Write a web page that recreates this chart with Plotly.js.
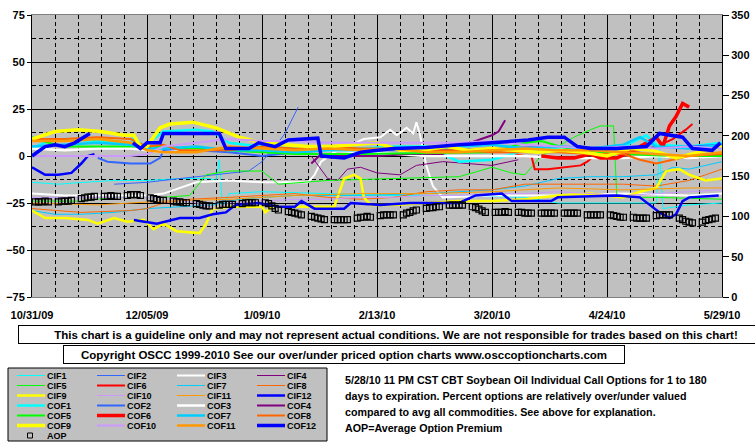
<!DOCTYPE html>
<html><head><meta charset="utf-8">
<script src="https://cdn.plot.ly/plotly-3.0.1.min.js"></script>
<style>html,body{margin:0;padding:0;background:#fff;}#chart{width:755px;height:446px;}</style>
</head><body><div id="chart"></div>
<script>
// ---- data: day offsets from 10/31/09 and % over/under values ----
const cif1Day = [0,8,16,25,35,45,54,56,57,58,60,70,90,110,130,150,160,175,190,191,192,200,210];
const cif1Val = [-14,-15,-14,-13,-13,-12,-12,-13,-2,-27,-20,-19,-20,-21,-21,-22,-25,-25,-25,4,-28,-26,-25];
const cif2Day = [25,35,45,55,62,66,70,74,77,79,81];
const cif2Val = [-15,-14,-12,-10,-9,-8,-3,5,12,19,26];
const cif3Day = [0,10,20,35,40,45,50,60,70,80,84,86,88,92,97,101,106,109,111,114,116,117,118,120,122,125,140,160,180,200,210];
const cif3Val = [-20,-21,-21,-21,-20,-17,-14,-13,-14,-14,-14,-10,-3,2,6,9,10,14,11,15,12,18,12,-5,-16,-22,-21,-21,-20,-21,-20];
const cif4Day = [85,87,90,93,96,100,105,112,117,125,133,140,148];
const cif4Val = [0,-5,-12,-13,-7,-6,-9,-10,-5,-3,-4,-5,-2];
const cif5Day = [0,15,25,40,48,53,60,70,75,90,110,130,140,146,150,155,160,165,170,173,177,178,190,210];
const cif5Val = [-24,-24,-22,-22,-21,-10,-8,-8,-15,-13,-12,-11,-6,-9,-10,0,5,10,14,16,16,-22,-22,-23];
const cif6Day = [147,150,152,153,157,162,167,169,171,175,180,185,190,195,199,201];
const cif6Val = [1,0,0,-7,-7,-6,-5,-3,0,1,2,3,5,9,14,17];
const cif7Day = [0,7,15,25,30,35,45,55,63,70,80,100,120,130,140,150,160,170,180,190,195,200,210];
const cif7Val = [-29,-31,-31,-30,-29,-28,-27,-26,-23,-22,-21,-21,-20,-19,-18,-16,-12,-11,-11,-10,-6,-7,-3];
const cif8Day = [0,15,30,35,40,48,60,70,80,90,100,110,120,130,140,150,160,170,180,190,200,205,210];
const cif8Val = [-28,-30,-29,-28,-25,-23,-22,-21,-20,-22,-23,-22,-19,-18,-18,-15,-15,-15,-15,-16,-13,-10,-7];
const cif9Day = [0,4,10,17,20,25,29,34,37,40,44,51,53,55,60,70,71,73,80,92,95,98,100,101,103,110,120,130,140,150,160,170,175,180,185,190,193,197,200,205,210];
const cif9Val = [-29,-33,-33,-34,-36,-33,-35,-34,-39,-36,-40,-41,-36,-28,-27,-27,-30,-27,-27,-27,-12,-10,-12,-22,-26,-26,-25,-24,-24,-23,-21,-20,-21,-22,-19,-17,-8,-7,-10,-13,-12];
const cif10Day = [0,20,40,50,56,60,70,80,90,100,110,120,130,140,150,160,170,180,190,200,210];
const cif10Val = [-22,-22,-22,-25,-28,-25,-24,-23,-23,-22,-22,-21,-21,-20,-20,-19,-20,-21,-20,-19,-18];
const cif11Day = [0,20,40,60,80,100,120,140,160,180,200,210];
const cif11Val = [-25,-26,-24,-23,-21,-20,-20,-19,-17,-18,-17,-17];
const cif12Day = [0,4,8,12,15,17,19,25,31,38,45,51,55,59,62,69,75,80,82,86,95,97,106,115,130,135,143,146,158,160,178,185,188,191,194,196,198,200,209];
const cif12Val = [-6,-10,-10,-9,-4,0,1,null,-34,-36,-33,-33,-31,-30,-26,-25,-27,-27,-24,-28,-28,-25,-26,-25,-25,-21,-20,-24,-24,-22,-21,-22,-26,-30,-33,-31,-24,-22,-21];

const cof1Day = [0,5,10,20,30,31,34,40,50,55,60,70,80,90,100,110,120,130,140,150,160,170,180,187,190,200,210];
const cof1Val = [4,8,9,8,6,10,5,13,14,13,7,5,4,5,4,5,5,-3,-2,3,4,3,5,11,6,5,7];
const cof2Day = [20,23,30,36,39,40,50,60,70,80,90,100,120,140,160,180,200,210];
const cof2Val = [-1,-3,-4,-4,-1,3,3,2,0,2,3,3,3,4,5,4,5,6];
const cof3Day = [0,10,20,30,35,40,50,60,70,80,90,100,110,120,130,140,150,160,170,180,190,200,210];
const cof3Val = [4,3,4,4,3,2,3,4,4,3,3,2,1,0,0,0,0,-1,-1,-1,0,-1,0];
const cof4Day = [85,88,95,105,115,125,130,135,140,142,144];
const cof4Val = [-4,1,0,0,1,1,5,8,11,13,19];
const cof5Day = [0,5,10,25,35,50,60,70,80,100,120,140,150,155,165,180,195,210];
const cof5Val = [10,7,5,5,5,4,3,2,1,1,1.5,2,7,8,3,1,0,0];
const cof6Day = [155,160,165,170,173,178,182,186,188,190,192,194,196,198,200];
const cof6Val = [0,-1,-1,1,-1,-1,2,6,8,10,5,16,21,28,26];
const cof7Day = [0,10,20,30,35,40,50,60,70,80,90,100,110,120,130,140,150,160,170,180,185,190,200,210];
const cof7Val = [5,6,7,6,4,4,5,3,3,2,3,3,4,4,5,6,4,5,4,6,10,5,4,6];
const cof8Day = [0,10,20,30,35,40,45,60,70,80,90,100,110,120,130,140,150,160,170,180,185,190,195,200,210];
const cof8Val = [9,9,10,9,5,6,3,3,5,4,5,4,4,3,3,2,2,2,1,1,-2,-4,-2,0,1];
const cof9Day = [0,7,14,21,28,31,33,35,39,42,49,56,63,70,77,84,91,98,105,112,119,126,133,140,147,154,161,168,175,182,189,196,203,210];
const cof9Val = [9,13,14,13,11,11,5,5,15,17,18,15,10,7,6,5,5,6,7,3,3,5,3,4,3,2,3,2,0,4,3,-1,2,5];
const cof10Day = [0,10,20,30,35,40,50,60,70,80,90,100,110,120,130,140,150,160,170,180,190,200,210];
const cof10Val = [0,0,0,0,1,5,7,9,8,8,7,7,7,7,7,8,6,5,4,5,4,5,4];
const cof11Day = [0,10,20,30,35,40,50,60,70,80,90,100,110,120,130,140,150,160,170,180,190,200,210];
const cof11Val = [8,8,9,7,3,2,2,5,4,3,4,3,4,2,2,3,4,3,3,2,1,0,2];
const cof12Day = [0,4,7,10,13,17.6,25,30.7,33,35,39,40,57,59,66,69,72,74,78,87,88,95,100,110,120,130,140,151,157,162,166,170,178,187,191,198,201,207,209.5];
const cof12Val = [0,5,6,5,7,12,null,7,4,7,7,12,12,4,4,7,6,5,8.5,9.5,0,-1,2,4,4.5,6,7,8.5,10,10,5,4,4,5,12,10,4,3,7];

// Average option premium (right axis), one value per trading day, 30 weeks x 5 days
const aopVal = [
118,118,118,119,118, 118,119,119,119,120, 122,123,124,124,125, 125,125,126,125,125, 126,127,127,127,126,
123,122,121,120,120, 119,118,118,117,117, 116,115,114,113,113, 114,115,115,115,115, 116,117,117,117,117,
117,116,113,110,108, 106,105,104,103,102, 100,99,98,97,96, 96,96,96,96,96, 98,99,99,100,99,
101,102,102,102,102, 102,104,105,107,108, 110,111,111,112,112, 114,114,114,114,114, 112,111,109,107,105,
105,105,105,106,105, 105,105,104,104,104, 104,104,104,104,104, 104,104,104,104,104, 102,102,102,102,102,
102,101,100,99,99, 99,98,98,98,98, 101,102,102,102,102, 98,96,94,93,92, 93,95,96,97,98];

const seriesNames = ['CIF1','CIF2','CIF3','CIF4','CIF5','CIF6','CIF7','CIF8','CIF9','CIF10','CIF11','CIF12',
                     'COF1','COF2','COF3','COF4','COF5','COF6','COF7','COF8','COF9','COF10','COF11','COF12'];
const seriesDays = [cif1Day,cif2Day,cif3Day,cif4Day,cif5Day,cif6Day,cif7Day,cif8Day,cif9Day,cif10Day,cif11Day,cif12Day,
                    cof1Day,cof2Day,cof3Day,cof4Day,cof5Day,cof6Day,cof7Day,cof8Day,cof9Day,cof10Day,cof11Day,cof12Day];
const seriesVals = [cif1Val,cif2Val,cif3Val,cif4Val,cif5Val,cif6Val,cif7Val,cif8Val,cif9Val,cif10Val,cif11Val,cif12Val,
                    cof1Val,cof2Val,cof3Val,cof4Val,cof5Val,cof6Val,cof7Val,cof8Val,cof9Val,cof10Val,cof11Val,cof12Val];

// ---- styles ----
const baseColors = ['#00FFFF','#3366FF','#FFFFFF','#800080','#00FF00','#FF0000','#00CCFF','#FF6600','#FFFF00','#CC99FF','#FF9900','#0000FF'];
const cifWidths = [1,1,2,1,1,2,1,1,2.5,1,1,2.5];
const cofWidths = [2.5,2,2.5,2,2,3.5,2.5,2,3.5,2,2.5,3.5];

const START = Date.UTC(2009,9,31);
const DAY = 864e5;
function toDate(d){ return START + d*DAY; }

const traces = [];
for (let i=0;i<24;i++){
  const c = baseColors[i%12];
  const w = i<12 ? cifWidths[i] : cofWidths[i-12];
  traces.push({
    type:'scatter', mode:'lines', name:seriesNames[i],
    x: seriesDays[i].map(toDate), y: seriesVals[i],
    line:{color:c, width:w}, showlegend:false, hoverinfo:'skip'
  });
}
const aopX = [];
for (let w=0; w<30; w++) for (let k=0;k<5;k++) aopX.push(toDate(7*w+1+k));
traces.push({type:'scatter', mode:'markers', name:'AOP', x:aopX, y:aopVal, yaxis:'y2',
  marker:{symbol:'square-open', size:6, color:'#000', line:{width:1.2, color:'#000'}}, showlegend:false, hoverinfo:'skip'});

// ---- pixel helpers for page furniture ----
const L=32, T=15, W=690, H=282;
const PX = p => (p-L)/W;
const PY = p => (T+H-p)/H;

const boldFont = (s)=>({family:'Liberation Sans, Arial, sans-serif', size:s, color:'#000', weight:'bold'});

const shapes = [];
const annotations = [];
// legend box
shapes.push({type:'rect', xref:'paper', yref:'paper', x0:PX(8), x1:PX(327), y0:PY(368), y1:PY(441),
  fillcolor:'#C0C0C0', line:{color:'#000', width:1}, layer:'below'});
const colLine = [[17,45],[97,125],[177,205],[257,285]];
const colText = [46,126,206,286];
for (let i=0;i<24;i++){
  const r = Math.floor(i/4), col = i%4;
  const y = 376 + 10*r;
  const w = i<12 ? cifWidths[i] : cofWidths[i-12];
  shapes.push({type:'line', xref:'paper', yref:'paper', x0:PX(colLine[col][0]), x1:PX(colLine[col][1]), y0:PY(y-0.5), y1:PY(y-0.5),
    line:{color:baseColors[i%12], width:w}, layer:'below'});
  annotations.push({xref:'paper', yref:'paper', x:PX(colText[col]), y:PY(y), xanchor:'left', yanchor:'middle',
    text:seriesNames[i], showarrow:false, font:boldFont(9), borderpad:0});
}
shapes.push({type:'rect', xref:'paper', yref:'paper', x0:PX(27.5), x1:PX(32.5), y0:PY(433), y1:PY(438),
  line:{color:'#000', width:1}, fillcolor:'rgba(0,0,0,0)', layer:'below'});
annotations.push({xref:'paper', yref:'paper', x:PX(46), y:PY(436), xanchor:'left', yanchor:'middle',
  text:'AOP', showarrow:false, font:boldFont(9), borderpad:0});

// disclaimer boxes
annotations.push({xref:'paper', yref:'paper', x:PX(396), y:PY(334), xanchor:'center', yanchor:'middle', showarrow:false,
  text:'This chart is a guideline only and may not represent actual conditions. We are not responsible for trades based on this chart!',
  font:boldFont(11.5), bordercolor:'#000', borderwidth:1, borderpad:1, bgcolor:'#fff', width:752, height:15});
annotations.push({xref:'paper', yref:'paper', x:PX(344), y:PY(354), xanchor:'center', yanchor:'middle', showarrow:false,
  text:'Copyright OSCC 1999-2010 See our over/under priced option charts www.osccoptioncharts.com',
  font:boldFont(11.5), bordercolor:'#000', borderwidth:1, borderpad:1, bgcolor:'#fff', width:558, height:15});

// description
const descLines = ['5/28/10 11 PM CST CBT Soybean Oil Individual Call Options for 1 to 180',
  'days to expiration. Percent options are relatively over/under valued',
  'compared to avg all commodities. See above for explanation.',
  'AOP=Average Option Premium'];
descLines.forEach((t,i)=>annotations.push({xref:'paper', yref:'paper', x:PX(344), y:PY(380+16*i), xanchor:'left', yanchor:'middle',
  text:t, showarrow:false, font:boldFont(10.7), borderpad:0}));

const gridDash = '4px,3px';
const layout = {
  width:755, height:446,
  margin:{l:L, r:33, t:T, b:446-T-H, pad:0},
  paper_bgcolor:'#fff', plot_bgcolor:'#C0C0C0',
  showlegend:false,
  xaxis:{type:'date', range:[toDate(0), toDate(210)], tick0:'2009-10-31', dtick:35*DAY, tickformat:'%-m/%d/%y',
    showgrid:true, gridcolor:'#000', gridwidth:1, zeroline:false,
    ticks:'outside', ticklen:8, tickcolor:'rgba(0,0,0,0)',
    showline:true, linecolor:'#808080', linewidth:1, mirror:true,
    tickfont:boldFont(11),
    minor:{dtick:7*DAY, tick0:'2009-10-31', showgrid:true, gridcolor:'#000', gridwidth:1, griddash:gridDash}},
  yaxis:{range:[-75,75], tickmode:'linear', tick0:-75, dtick:25, showgrid:true, gridcolor:'#000', gridwidth:1, zeroline:false,
    ticks:'outside', ticklen:4, tickcolor:'#000', showline:true, linecolor:'#000', linewidth:1,
    tickfont:boldFont(11),
    minor:{dtick:12.5, tick0:-75, showgrid:true, gridcolor:'#000', gridwidth:1, griddash:gridDash}},
  yaxis2:{range:[0,350], tickmode:'linear', tick0:0, dtick:50, overlaying:'y', side:'right', showgrid:false, zeroline:false,
    ticks:'outside', ticklen:6, tickcolor:'#000', showline:true, linecolor:'#000', linewidth:1,
    tickfont:boldFont(11)},
  shapes:shapes, annotations:annotations
};
Plotly.newPlot('chart', traces, layout, {displayModeBar:false, staticPlot:true});
</script></body></html>
